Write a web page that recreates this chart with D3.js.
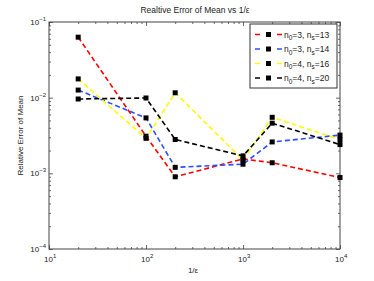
<!DOCTYPE html>
<html>
<head>
<meta charset="utf-8">
<script src="https://cdn.jsdelivr.net/npm/d3@7"></script>
<style>
  body { margin: 0; background: #fff; }
  svg text { font-family: "Liberation Sans", Arial, sans-serif; fill: #222; }
</style>
</head>
<body>
<script>
// x values (1/eps) shared by all runs
var xVals = [20, 100, 200, 1000, 2000, 10000];

// relative error of mean, one array per run
var red13   = [0.063, 0.0031, 0.0009, 0.00155, 0.00138, 0.00088];
var blue14  = [0.0126, 0.0054, 0.0012, 0.00132, 0.0026, 0.0032];
var yel16   = [0.0177, 0.0029, 0.0116, 0.0015, 0.0055, 0.0028];
var black20 = [0.0096, 0.0099, 0.0028, 0.0017, 0.0046, 0.0024];

var seriesNames = [["3", "13"], ["3", "14"], ["4", "16"], ["4", "20"]];
var seriesColors = ["#ff0000", "#2f4dff", "#ffff00", "#000000"];
var seriesData = [red13, blue14, yel16, black20];

var xTickExp = [1, 2, 3, 4];
var yTickExp = [-4, -3, -2, -1];

var W = 374, H = 281;
// plot box edges (window.top is read-only, so use own names)
var pL = 49, pR = 340, pT = 22, pB = 249;

var svg = d3.select("body").append("svg")
    .attr("width", W)
    .attr("height", H);

var x = d3.scaleLog().domain([10, 1e4]).range([pL, pR]);
var y = d3.scaleLog().domain([1e-4, 1e-1]).range([pB, pT]);

// minor tick values
var xMinor = [], yMinor = [];
[1, 2, 3].forEach(function(e) {
  for (var k = 2; k < 10; k++) xMinor.push(k * Math.pow(10, e));
});
[-4, -3, -2].forEach(function(e) {
  for (var k = 2; k < 10; k++) yMinor.push(k * Math.pow(10, e));
});
var xMajor = xTickExp.map(function(e) { return Math.pow(10, e); });
var yMajor = yTickExp.map(function(e) { return Math.pow(10, e); });

function drawAxis(axisFn, scale, vals, size, tx, ty) {
  var g = svg.append("g")
      .attr("transform", "translate(" + tx + "," + ty + ")")
      .call(axisFn(scale).tickValues(vals).tickSize(size).tickFormat(""));
  g.select(".domain").remove();
  g.selectAll("line").attr("stroke", "#444").attr("stroke-width", 0.8);
}
drawAxis(d3.axisBottom, x, xMajor, -4, 0, pB);
drawAxis(d3.axisBottom, x, xMinor, -2, 0, pB);
drawAxis(d3.axisTop, x, xMajor, -4, 0, pT);
drawAxis(d3.axisTop, x, xMinor, -2, 0, pT);
drawAxis(d3.axisLeft, y, yMajor, -4, pL, 0);
drawAxis(d3.axisLeft, y, yMinor, -2, pL, 0);
drawAxis(d3.axisRight, y, yMajor, -4, pR, 0);
drawAxis(d3.axisRight, y, yMinor, -2, pR, 0);

svg.append("rect")
    .attr("x", pL).attr("y", pT)
    .attr("width", pR - pL).attr("height", pB - pT)
    .attr("fill", "none")
    .attr("stroke", "#444")
    .attr("stroke-width", 1);

// tick labels as 10^n
xTickExp.forEach(function(e) {
  var t = svg.append("text")
      .attr("x", x(Math.pow(10, e)) - 5)
      .attr("y", pB + 13)
      .attr("font-size", 8);
  t.append("tspan").text("10");
  t.append("tspan").attr("dy", -4).attr("font-size", 6).text(e);
});
yTickExp.forEach(function(e) {
  var t = svg.append("text")
      .attr("x", pL - 3)
      .attr("y", y(Math.pow(10, e)) + 3)
      .attr("text-anchor", "end")
      .attr("font-size", 8);
  t.append("tspan").text("10");
  t.append("tspan").attr("dy", -4).attr("font-size", 6).text("\u2212" + (-e));
});

// titles
svg.append("text")
    .attr("x", 195).attr("y", 13)
    .attr("text-anchor", "middle")
    .attr("font-size", 8.5)
    .text("Realtive Error of Mean vs 1/\u03b5");
svg.append("text")
    .attr("x", 193).attr("y", 273)
    .attr("text-anchor", "middle")
    .attr("font-size", 8)
    .text("1/\u03b5");
svg.append("text")
    .attr("transform", "translate(23," + ((pT + pB) / 2) + ") rotate(-90)")
    .attr("text-anchor", "middle")
    .attr("font-size", 8)
    .text("Relative Error of Mean");

// lines
var line = d3.line()
    .x(function(d, i) { return x(xVals[i]); })
    .y(function(d) { return y(d); });

seriesData.forEach(function(s, si) {
  svg.append("path")
      .datum(s)
      .attr("d", line)
      .attr("fill", "none")
      .attr("stroke", seriesColors[si])
      .attr("stroke-width", 1.6)
      .attr("stroke-dasharray", "5,3");
  svg.selectAll(".m" + si)
      .data(s)
    .enter().append("rect")
      .attr("x", function(d, i) { return x(xVals[i]) - 2.5; })
      .attr("y", function(d) { return y(d) - 2.5; })
      .attr("width", 5).attr("height", 5)
      .attr("fill", "#000");
});

// legend
var lg = svg.append("g");
lg.append("rect")
    .attr("x", 250).attr("y", 24)
    .attr("width", 87).attr("height", 64)
    .attr("fill", "#fff")
    .attr("stroke", "#333")
    .attr("stroke-width", 1);
seriesNames.forEach(function(n, i) {
  var ly = 34.5 + i * 14.5;
  lg.append("line")
      .attr("x1", 255).attr("x2", 282)
      .attr("y1", ly).attr("y2", ly)
      .attr("stroke", seriesColors[i])
      .attr("stroke-width", 1.6)
      .attr("stroke-dasharray", "5,6");
  lg.append("rect")
      .attr("x", 266).attr("y", ly - 2.5)
      .attr("width", 5).attr("height", 5)
      .attr("fill", "#000");
  var t = lg.append("text")
      .attr("x", 284).attr("y", ly + 3)
      .attr("font-size", 8.5);
  t.append("tspan").text("n");
  t.append("tspan").attr("dy", 2.5).attr("font-size", 6.5).text("0");
  t.append("tspan").attr("dy", -2.5).text("=" + n[0] + ", n");
  t.append("tspan").attr("dy", 2.5).attr("font-size", 6.5).text("s");
  t.append("tspan").attr("dy", -2.5).text("=" + n[1]);
});
</script>
</body>
</html>
